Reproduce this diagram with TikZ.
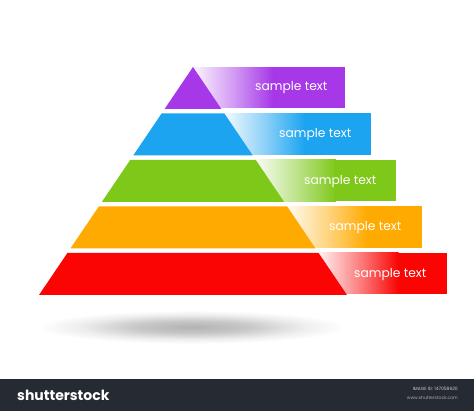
\documentclass[tikz,border=0pt]{standalone}
\usepackage{fontspec}
\setmainfont{Poppins}
\definecolor{cpurple}{RGB}{166,56,232}
\definecolor{cblue}{RGB}{28,164,240}
\definecolor{cgreen}{RGB}{126,200,26}
\definecolor{corange}{RGB}{255,170,0}
\definecolor{cred}{RGB}{250,4,4}
\definecolor{barbg}{RGB}{38,42,51}
\pgfdeclareradialshading{softshadow}{\pgfpoint{0bp}{0bp}}{color(0bp)=(black!30); color(8bp)=(black!22); color(16bp)=(black!7); color(22bp)=(white); color(50bp)=(white)}
\newcommand\pyrtab[5]{%
  \shade[left color=#1!5, right color=#1, middle color=#1!50] (#2,#3) rectangle ({#2+80},#4);
  \fill[#1] ({#2+79.5},#3) rectangle (#5,#4);}
\tikzset{
  tabtext/.style={text=white, inner sep=0pt, anchor=west, font=\fontsize{12.3}{13}\selectfont},
}
\begin{document}
\begin{tikzpicture}[x=1pt,y=-1pt]
\useasboundingbox (0,0) rectangle (474,411);
\fill[white] (0,0) rectangle (474,411);
% shadow
\shade[shading=softshadow] (18,308) rectangle (366,346);
% tabs
\pyrtab{cpurple}{193}{67.5}{108}{345}
\pyrtab{cblue}{224.4}{113.5}{155}{371}
\pyrtab{cgreen}{255.8}{160}{201.5}{396}
\pyrtab{corange}{287.2}{206.5}{248}{422}
\pyrtab{cred}{318.6}{253}{294}{447}
% pyramid layers
\fill[cpurple] (193,67) -- (221.4,109) -- (164.6,109) -- cycle;
\fill[cblue] (161.6,113.5) -- (224.4,113.5) -- (252.8,155.5) -- (133.2,155.5) -- cycle;
\fill[cgreen] (130.2,160) -- (255.8,160) -- (284.2,202) -- (101.8,202) -- cycle;
\fill[corange] (98.8,206.5) -- (287.2,206.5) -- (315.6,248.5) -- (70.4,248.5) -- cycle;
\fill[cred] (67.4,253) -- (318.6,253) -- (347,295) -- (39,295) -- cycle;
% texts
\node[tabtext] (t1) at (255,88) {sample text};
\node[tabtext] (t2) at (279,135) {sample text};
\node[tabtext] (t3) at (304,182) {sample text};
\node[tabtext] (t4) at (329,228) {sample text};
\node[tabtext] (t5) at (354,275) {sample text};
% bottom bar
\fill[barbg] (0,379) rectangle (474,411);
\node[anchor=west, text=white, inner sep=0pt, font=\fontsize{14}{14}\selectfont\bfseries] (logo) at (17,395) {shutterstock};
\node[anchor=east, text=white!75!barbg, inner sep=0pt, font=\fontsize{4.5}{5}\selectfont] (imgid) at (458,389) {IMAGE ID: 147058620};
\node[anchor=east, text=white!60!barbg, inner sep=0pt, font=\fontsize{4.5}{5}\selectfont] (url) at (458,398) {www.shutterstock.com};
\end{tikzpicture}
\end{document}
